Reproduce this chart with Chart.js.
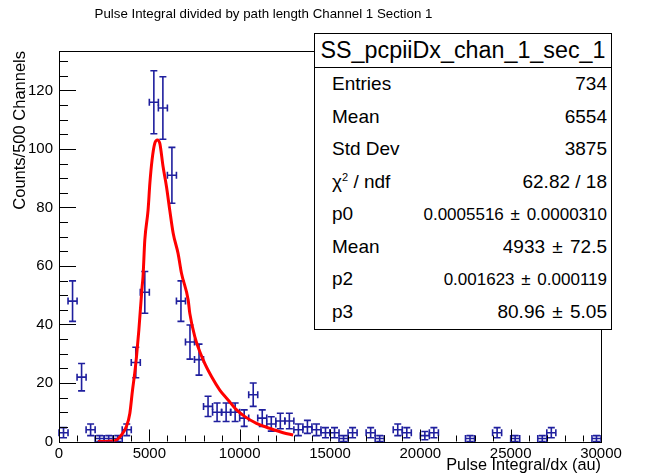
<!DOCTYPE html>
<html>
<head>
<meta charset="utf-8">
<script src="https://cdn.jsdelivr.net/npm/chart.js@4.4.1/dist/chart.umd.min.js"></script>
<style>
  body { margin: 0; background: #fff; }
  #wrap { position: relative; width: 651px; height: 476px; background: #fff; font-family: "Liberation Sans", Arial, sans-serif; }
  #title { position: absolute; left: 0; top: 5px; width: 527px; text-align: center; font-size: 13.3px; line-height: 18px; color: #000; }
  #stats { position: absolute; left: 314px; top: 33px; width: 298px; height: 297px; box-sizing: border-box;
           border: 1px solid #000; background: #fff; color: #000; }
  #stats .head { height: 33px; line-height: 33px; border-bottom: 1px solid #000; text-align: center; font-size: 23.3px; }
  #stats .row { height: 32.5px; line-height: 32.5px; display: flex; justify-content: space-between; align-items: baseline; padding: 0 4px 0 17px; font-size: 19px; }
  #stats .small { font-size: 17px; }
  #stats .pm { margin: 0 2px; }
  #stats sup { font-size: 11px; line-height: 0; }
</style>
</head>
<body>
<div id="wrap">
  <canvas id="histo" width="651" height="476"></canvas>
  <div id="title">Pulse Integral divided by path length Channel 1 Section 1</div>
  <div id="stats">
    <div class="head">SS_pcpiiDx_chan_1_sec_1</div>
    <div class="row"><span>Entries</span><span>734</span></div>
    <div class="row"><span>Mean</span><span>6554</span></div>
    <div class="row"><span>Std Dev</span><span>3875</span></div>
    <div class="row"><span>&chi;<sup>2</sup> / ndf</span><span>62.82 / 18</span></div>
    <div class="row"><span>p0</span><span class="small">0.0005516 <span class="pm">&plusmn;</span> 0.0000310</span></div>
    <div class="row"><span>Mean</span><span>4933 <span class="pm">&plusmn;</span> 72.5</span></div>
    <div class="row"><span>p2</span><span class="small">0.001623 <span class="pm">&plusmn;</span> 0.000119</span></div>
    <div class="row"><span>p3</span><span>80.96 <span class="pm">&plusmn;</span> 5.05</span></div>
  </div>
</div>
<script>
// histogram bins (500 channels wide), bin centres and counts
const binWidth = 500;
const binCenters = [250, 750, 1250, 1750, 2250, 2750, 3250, 3750, 4250, 4750,
  5250, 5750, 6250, 6750, 7250, 7750, 8250, 8750, 9250, 9750,
  10250, 10750, 11250, 11750, 12250, 12750, 13250, 13750, 14250, 14750,
  15250, 15750, 16250, 17250, 17750, 18750, 19250, 20250, 20750,
  22750, 24250, 25250, 26750, 27250, 29750];
const counts = [3, 48, 22, 4, 1, 1, 1, 4, 27, 51,
  116, 114, 91, 48, 34, 28, 12, 10, 10, 10,
  8, 16, 8, 6, 7, 7, 4, 5, 4, 3,
  3, 1, 3, 3, 1, 4, 3, 2, 3,
  1, 3, 1, 1, 3, 1];

// fit curve
const fitX = [2150, 3100, 3450, 3730, 3920, 4070, 4190, 4290, 4420, 4600, 4650, 4750, 4930, 5030, 5150,
  5300, 5450, 5580, 5760, 5950, 6130, 6320, 6590, 6780, 7150, 7240, 7520, 7980, 8440, 8900,
  9360, 9830, 10290, 10930, 11670, 12410, 12960];
const fitY = [0, 0.3, 2.2, 5.1, 9.6, 17.6, 23.3, 29, 38.1, 52.9, 56.3, 68.9, 79.1, 88.3, 96.2,
  101.9, 103.1, 101.9, 94, 87.1, 79.1, 71.2, 64.3, 57.5, 48.4, 43.8, 35.8, 27.9, 22.2, 17.6,
  14.2, 10.8, 8.5, 6.2, 4.5, 3, 2.2];

const xTicks = [0, 5000, 10000, 15000, 20000, 25000, 30000];
const yTicks = [0, 20, 40, 60, 80, 100, 120];

const errColor = '#1f1f9e';

// error bars like ROOT's E1 option
const errorBars = {
  id: 'errorBars',
  beforeDatasetsDraw(chart) {
    const ctx = chart.ctx, xs = chart.scales.x, ys = chart.scales.y;
    const pts = chart.data.datasets[0].data;
    ctx.save();
    ctx.strokeStyle = errColor;
    ctx.lineWidth = 1.6;
    const cap = 3.5;
    pts.forEach(p => {
      const err = Math.sqrt(p.y);
      const xl = xs.getPixelForValue(p.x - binWidth / 2);
      const xr = xs.getPixelForValue(p.x + binWidth / 2);
      const xc = xs.getPixelForValue(p.x);
      const yc = ys.getPixelForValue(p.y);
      const yt = ys.getPixelForValue(p.y + err);
      const yb = ys.getPixelForValue(p.y - err);
      ctx.beginPath();
      ctx.moveTo(xl, yc); ctx.lineTo(xr, yc);
      ctx.moveTo(xl, yc - cap); ctx.lineTo(xl, yc + cap);
      ctx.moveTo(xr, yc - cap); ctx.lineTo(xr, yc + cap);
      ctx.moveTo(xc, yt); ctx.lineTo(xc, yb);
      ctx.moveTo(xc - cap, yt); ctx.lineTo(xc + cap, yt);
      ctx.moveTo(xc - cap, yb); ctx.lineTo(xc + cap, yb);
      ctx.stroke();
    });
    ctx.restore();
  }
};

// frame and inward ticks
const frame = {
  id: 'frame',
  afterDraw(chart) {
    const ctx = chart.ctx, a = chart.chartArea, xs = chart.scales.x, ys = chart.scales.y;
    ctx.save();
    ctx.strokeStyle = '#000';
    ctx.lineWidth = 1;
    ctx.strokeRect(Math.round(a.left) + 0.5, Math.round(a.top) + 0.5, Math.round(a.right - a.left), Math.round(a.bottom - a.top));
    ctx.beginPath();
    for (let v = 0; v <= 30000; v += 1000) {
      const x = Math.round(xs.getPixelForValue(v)) + 0.5;
      const len = v % 5000 === 0 ? 12 : 6;
      ctx.moveTo(x, a.bottom); ctx.lineTo(x, a.bottom - len);
    }
    for (let v = 0; v <= 130; v += 5) {
      const y = Math.round(ys.getPixelForValue(v)) + 0.5;
      const len = v % 20 === 0 ? 17 : 9;
      ctx.moveTo(a.left, y); ctx.lineTo(a.left + len, y);
    }
    ctx.stroke();
    ctx.restore();
  }
};

const tickFont = { family: 'Liberation Sans', size: 15 };

new Chart(document.getElementById('histo'), {
  type: 'scatter',
  data: {
    datasets: [{
      label: 'SS_pcpiiDx_chan_1_sec_1',
      data: binCenters.map((x, i) => ({ x: x, y: counts[i] })),
      pointRadius: 0,
      showLine: false
    }, {
      label: 'fit',
      type: 'line',
      data: fitX.map((x, i) => ({ x: x, y: fitY[i] })),
      borderColor: '#ff0000',
      borderWidth: 3,
      pointRadius: 0,
      fill: false,
      cubicInterpolationMode: 'monotone'
    }]
  },
  options: {
    responsive: false,
    animation: false,
    devicePixelRatio: 1,
    layout: { padding: { top: 51, right: 50, left: 0, bottom: 0 } },
    plugins: { legend: { display: false }, tooltip: { enabled: false }, title: { display: false } },
    scales: {
      x: {
        type: 'linear', min: 0, max: 30000,
        grid: { display: false, drawTicks: false },
        border: { display: false },
        afterFit(s) { s.height = 34.5; },
        afterBuildTicks(s) { s.ticks = xTicks.map(v => ({ value: v })); },
        ticks: { font: tickFont, color: '#000', padding: 3, maxRotation: 0, autoSkip: false, callback: v => String(v) },
        title: { display: true, text: 'Pulse Integral/dx (au)', align: 'end', color: '#000',
                 font: { family: 'Liberation Sans', size: 16.3 }, padding: { top: 0, bottom: 1 } }
      },
      y: {
        type: 'linear', min: 0, max: 133.5,
        grid: { display: false, drawTicks: false },
        border: { display: false },
        afterFit(s) { s.width = 59; },
        afterBuildTicks(s) { s.ticks = yTicks.map(v => ({ value: v })); },
        ticks: { font: tickFont, color: '#000', padding: 6, callback: v => String(v) },
        title: { display: true, text: 'Counts/500 Channels', align: 'end', color: '#000',
                 font: { family: 'Liberation Sans', size: 16.5 }, padding: { top: 10.5, bottom: 0 } }
      }
    }
  },
  plugins: [errorBars, frame]
});
</script>
</body>
</html>
